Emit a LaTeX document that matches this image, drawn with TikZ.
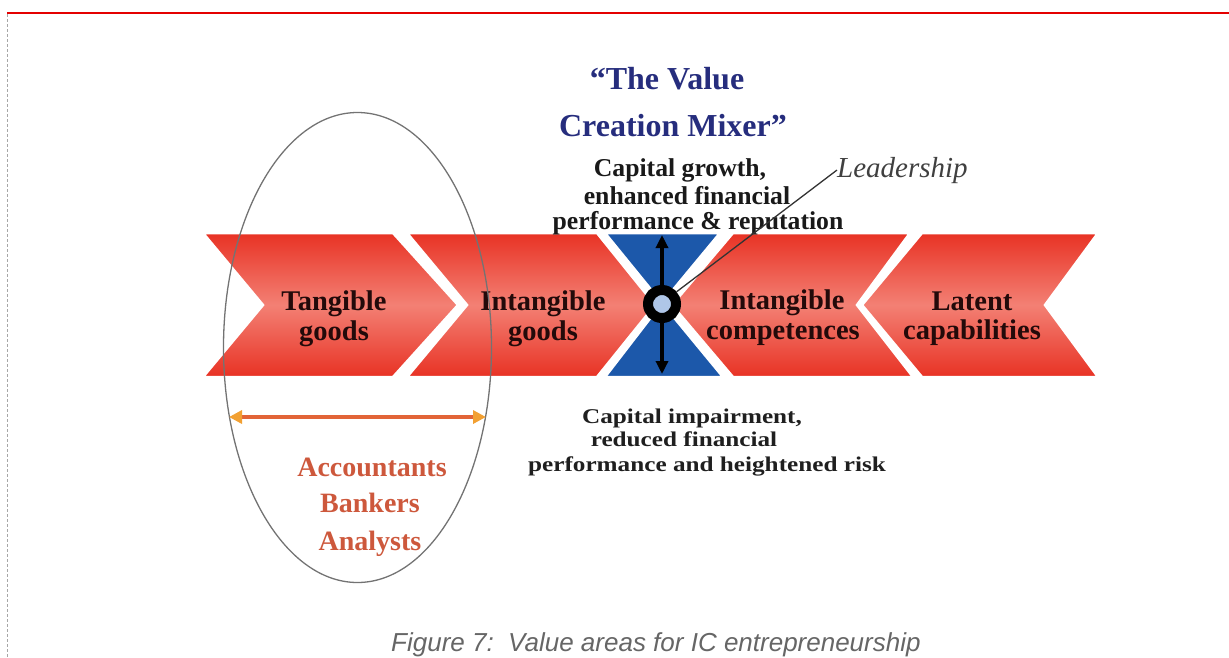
\documentclass[tikz,border=0pt]{standalone}
\usepackage{fontspec}
\setmainfont{Liberation Serif}
\newfontfamily\widefont{Liberation Serif}[FakeStretch=1.2]
\newfontfamily\capfont{Liberation Sans}
\usetikzlibrary{arrows.meta}
\definecolor{bandred}{RGB}{232,50,36}
\definecolor{bandpink}{RGB}{243,128,116}
\definecolor{mixblue}{RGB}{28,88,170}
\definecolor{ringfill}{RGB}{175,198,232}
\definecolor{titlenavy}{RGB}{38,45,125}
\definecolor{inkdark}{RGB}{35,10,10}
\definecolor{rolecol}{RGB}{205,88,60}
\definecolor{spanline}{RGB}{226,100,55}
\definecolor{spanhead}{RGB}{242,160,50}
\definecolor{rulered}{RGB}{228,0,0}
\begin{document}
\begin{tikzpicture}[x=1pt,y=-1pt,
  band/.style={top color=bandred, bottom color=bandred, middle color=bandpink,
    draw=white, line width=2.5pt, line join=miter},
  bluepart/.style={fill=mixblue, draw=white, line width=2.5pt},
  chevtext/.style={font=\fontsize{28.5}{30}\selectfont\bfseries, text=inkdark, anchor=base, inner sep=0pt},
  titletext/.style={font=\fontsize{32}{36}\selectfont\bfseries, text=titlenavy, anchor=base, inner sep=0pt},
  uptext/.style={font=\fontsize{25.7}{28}\selectfont\bfseries, text=black!90, anchor=base, inner sep=0pt},
  downtext/.style={font=\widefont\fontsize{21}{24}\selectfont\bfseries, text=black!88, anchor=base, inner sep=0pt},
  roletext/.style={font=\fontsize{28}{30}\selectfont\bfseries, text=rolecol, anchor=base, inner sep=0pt},
  vertarrow/.style={draw=black, line width=3.5pt, -{Triangle[width=12pt,length=13pt]}},
]
\useasboundingbox (0,0) rectangle (1229,657);

% page frame: red rule on top, dashed margin on the left
\coordinate (ruleL) at (7,12.5);
\coordinate (ruleR) at (1229,12.5);
\draw[rulered, line width=2pt] (ruleL) -- (ruleR);
\coordinate (marginT) at (7,14);
\coordinate (marginB) at (7,657);
\draw[black!35, line width=0.6pt, dash pattern=on 3pt off 2pt] (marginT) -- (marginB);

% the four value-area chevrons
\shadedraw[band] (203,233) -- (393,233) -- (458,305) -- (393,377) -- (203,377) -- (263,305) -- cycle;
\shadedraw[band] (407,233) -- (597,233) -- (655,305) -- (597,377) -- (407,377) -- (467,305) -- cycle;
\shadedraw[band] (733,233) -- (910,233) -- (857,305) -- (913,377) -- (733,377) -- (672,305) -- cycle;
\shadedraw[band] (922,233) -- (1098,233) -- (1045,305) -- (1098,377) -- (922,377) -- (862,305) -- cycle;

% the blue hourglass of the mixer
\filldraw[bluepart] (605,233) -- (720,233) -- (662,303) -- cycle;
\filldraw[bluepart] (605,377) -- (723,377) -- (662,303) -- cycle;

% mixer ring and its up/down arrows
\node[circle, draw=black, line width=10pt, fill=ringfill, minimum size=28pt, inner sep=0pt] (mix) at (662,304) {};
\coordinate (upend) at (662,235);
\coordinate (downend) at (662,374);
\draw[vertarrow] (mix.north) -- (upend);
\draw[vertarrow] (mix.south) -- (downend);

% chevron labels
\node[chevtext] (t1a) at (334,310) {Tangible};
\node[chevtext] (t1b) at (334,340) {goods};
\node[chevtext] (t2a) at (543,310) {Intangible};
\node[chevtext] (t2b) at (543,340) {goods};
\node[chevtext] (t3a) at (782,309) {Intangible};
\node[chevtext] (t3b) at (783,339) {competences};
\node[chevtext] (t4a) at (972,310) {Latent};
\node[chevtext] (t4b) at (972,339) {capabilities};

% title
\node[titletext] (ttl1) at (667,89) {“The Value};
\node[titletext] (ttl2) at (673,136) {Creation Mixer”};

% upside and downside outcomes
\node[uptext] (up1) at (680,176) {Capital growth,};
\node[uptext] (up2) at (687,204) {enhanced financial};
\node[uptext] (up3) at (698,229) {performance \& reputation};
\node[downtext] (dn1) at (692,423) {Capital impairment,};
\node[downtext] (dn2) at (684,446) {reduced financial};
\node[downtext] (dn3) at (707,471) {performance and heightened risk};

% leadership pointer
\node[font=\fontsize{29}{30}\selectfont\itshape, text=black!75, anchor=base west, inner sep=0pt] (lead) at (837,177) {Leadership};
\draw[black!80, line width=1.3pt] (mix.40) -- (lead.west);

% reach of the traditional financial view
\draw[black!55, line width=1.3pt] (357.5,347.5) ellipse [x radius=134pt, y radius=235pt];
\coordinate (spanL) at (229,417);
\coordinate (spanR) at (486,417);
\draw[spanline, line width=3.5pt,
  {Triangle[width=13pt,length=13pt,color=spanhead]}-{Triangle[width=13pt,length=13pt,color=spanhead]}]
  (spanL) -- (spanR);
\node[roletext] (r1) at (372,476) {Accountants};
\node[roletext] (r2) at (370,512) {Bankers};
\node[roletext] (r3) at (370,550) {Analysts};

% caption
\node[font=\capfont\itshape\fontsize{26}{28}\selectfont, text=black!60, anchor=base west, inner sep=0pt] (cap) at (391,651) {Figure 7:\ \ Value areas for IC entrepreneurship};
\end{tikzpicture}
\end{document}
